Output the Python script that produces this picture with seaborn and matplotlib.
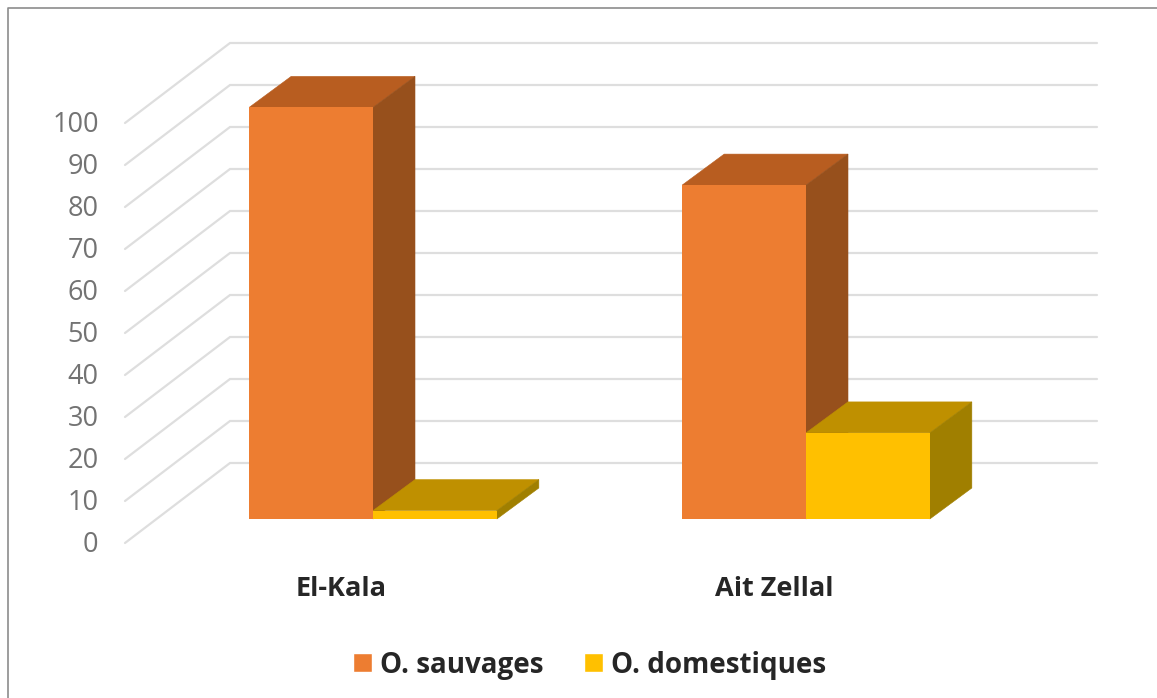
import pandas as pd
import matplotlib
matplotlib.use("Agg")
import matplotlib.pyplot as plt
import seaborn as sns
from matplotlib.patches import Polygon, Rectangle
from matplotlib.transforms import ScaledTranslation

sites = ["El-Kala", "Ait Zellal"]
species = ["O. sauvages", "O. domestiques"]
sauvages = [98, 79.5]
domestiques = [2, 20.5]
ticks = list(range(0, 101, 10))

colors = {"O. sauvages": "#ED7D31", "O. domestiques": "#FFC000"}
top_colors = {"#ED7D31": "#B85D20", "#FFC000": "#BF9000"}
side_colors = {"#ED7D31": "#97501C", "#FFC000": "#A07F00"}

W, H = 1157, 698
PX_X = 433.0  # pixels for one category
PX_Y = 4.2    # pixels for one percent


def to_x(px):
    return px / PX_X


def to_y(px):
    return px / PX_Y


sns.set_theme(style="white")
plt.rcParams["font.family"] = ["Open Sans", "DejaVu Sans"]

df = pd.DataFrame({
    "site": sites * 2,
    "species": [species[0]] * 2 + [species[1]] * 2,
    "value": sauvages + domestiques,
})

fig = plt.figure(figsize=(W / 100, H / 100), dpi=100)
# axes box: from the front edge of the floor to the top of the back wall
left, right, top, bottom = 125, 1097, 43, 543
ax = fig.add_axes([left / W, 1 - bottom / H, (right - left) / W, (bottom - top) / H])

sns.barplot(data=df, x="site", y="value", hue="species", order=sites, hue_order=species,
            palette=colors, width=0.572, gap=0, saturation=1, ax=ax, zorder=5)

ax.set_xlim(to_x(left - 373), to_x(right - 373))
ax.set_ylim(to_y(519 - bottom), to_y(519 - top))
ax.set_xlabel("")
ax.set_ylabel("")
for s in ax.spines.values():
    s.set_visible(False)

# walls: diagonal + back line for every tick
wall_dx, wall_dy = to_x(105), to_y(80)
front_x, front_y = to_x(125 - 373), to_y(519 - 543)
for t in ticks:
    y0 = front_y + t
    ax.plot([front_x, front_x + wall_dx, to_x(right - 373)],
            [y0, y0 + wall_dy, y0 + wall_dy],
            color="#DEDEDE", lw=1.6, zorder=1, clip_on=False, solid_joinstyle="miter")

# depth of the bars, painted left to right
depth_x, depth_y = to_x(42), to_y(31)
bars = sorted([p for p in ax.patches if isinstance(p, Rectangle) and p.get_width() > 0],
              key=lambda p: p.get_x())
for i, bar in enumerate(bars):
    x0, w, h = bar.get_x(), bar.get_width(), bar.get_height()
    col = matplotlib.colors.to_hex(bar.get_facecolor()).upper()
    bar.set_zorder(3 + i * 0.1)
    bar.set_edgecolor("none")
    ax.add_patch(Polygon([(x0, h), (x0 + w, h), (x0 + w + depth_x, h + depth_y), (x0 + depth_x, h + depth_y)],
                         closed=True, facecolor=top_colors[col], edgecolor=top_colors[col], lw=0.4,
                         zorder=2 + i * 0.1))
    ax.add_patch(Polygon([(x0 + w, 0), (x0 + w + depth_x, depth_y), (x0 + w + depth_x, h + depth_y), (x0 + w, h)],
                         closed=True, facecolor=side_colors[col], edgecolor=side_colors[col], lw=0.4,
                         zorder=2 + i * 0.1))

# tick labels sit on the front edge, not on the bar plane
ax.set_yticks(ticks)
ax.tick_params(axis="y", length=0, pad=19, labelsize=19.5, labelcolor="#737373")
ax.tick_params(axis="x", length=0, pad=24, labelsize=19.5, labelcolor="#262626")
for lab in ax.get_yticklabels():
    lab.set_transform(lab.get_transform() + ScaledTranslation(0, -22 / 100, fig.dpi_scale_trans))
for lab in ax.get_xticklabels():
    lab.set_fontweight("bold")
    lab.set_transform(lab.get_transform() + ScaledTranslation(-32 / 100, 0, fig.dpi_scale_trans))

sns.move_legend(ax, "center", bbox_to_anchor=(589.5 / W, 1 - 665 / H), bbox_transform=fig.transFigure,
                ncols=2, frameon=False, title=None, prop={"weight": "bold", "size": 20},
                handlelength=0.68, handleheight=0.65, handletextpad=0.3, columnspacing=1.44,
                borderpad=0, borderaxespad=0)
for txt in ax.get_legend().get_texts():
    txt.set_color("#262626")

# outer frame of the pasted chart
fig.add_artist(plt.Line2D([8 / W, 8 / W, 1], [0, 1 - 8 / H, 1 - 8 / H], color="#8C8C8C", lw=1.2))

fig.savefig("out.png", dpi=100)
